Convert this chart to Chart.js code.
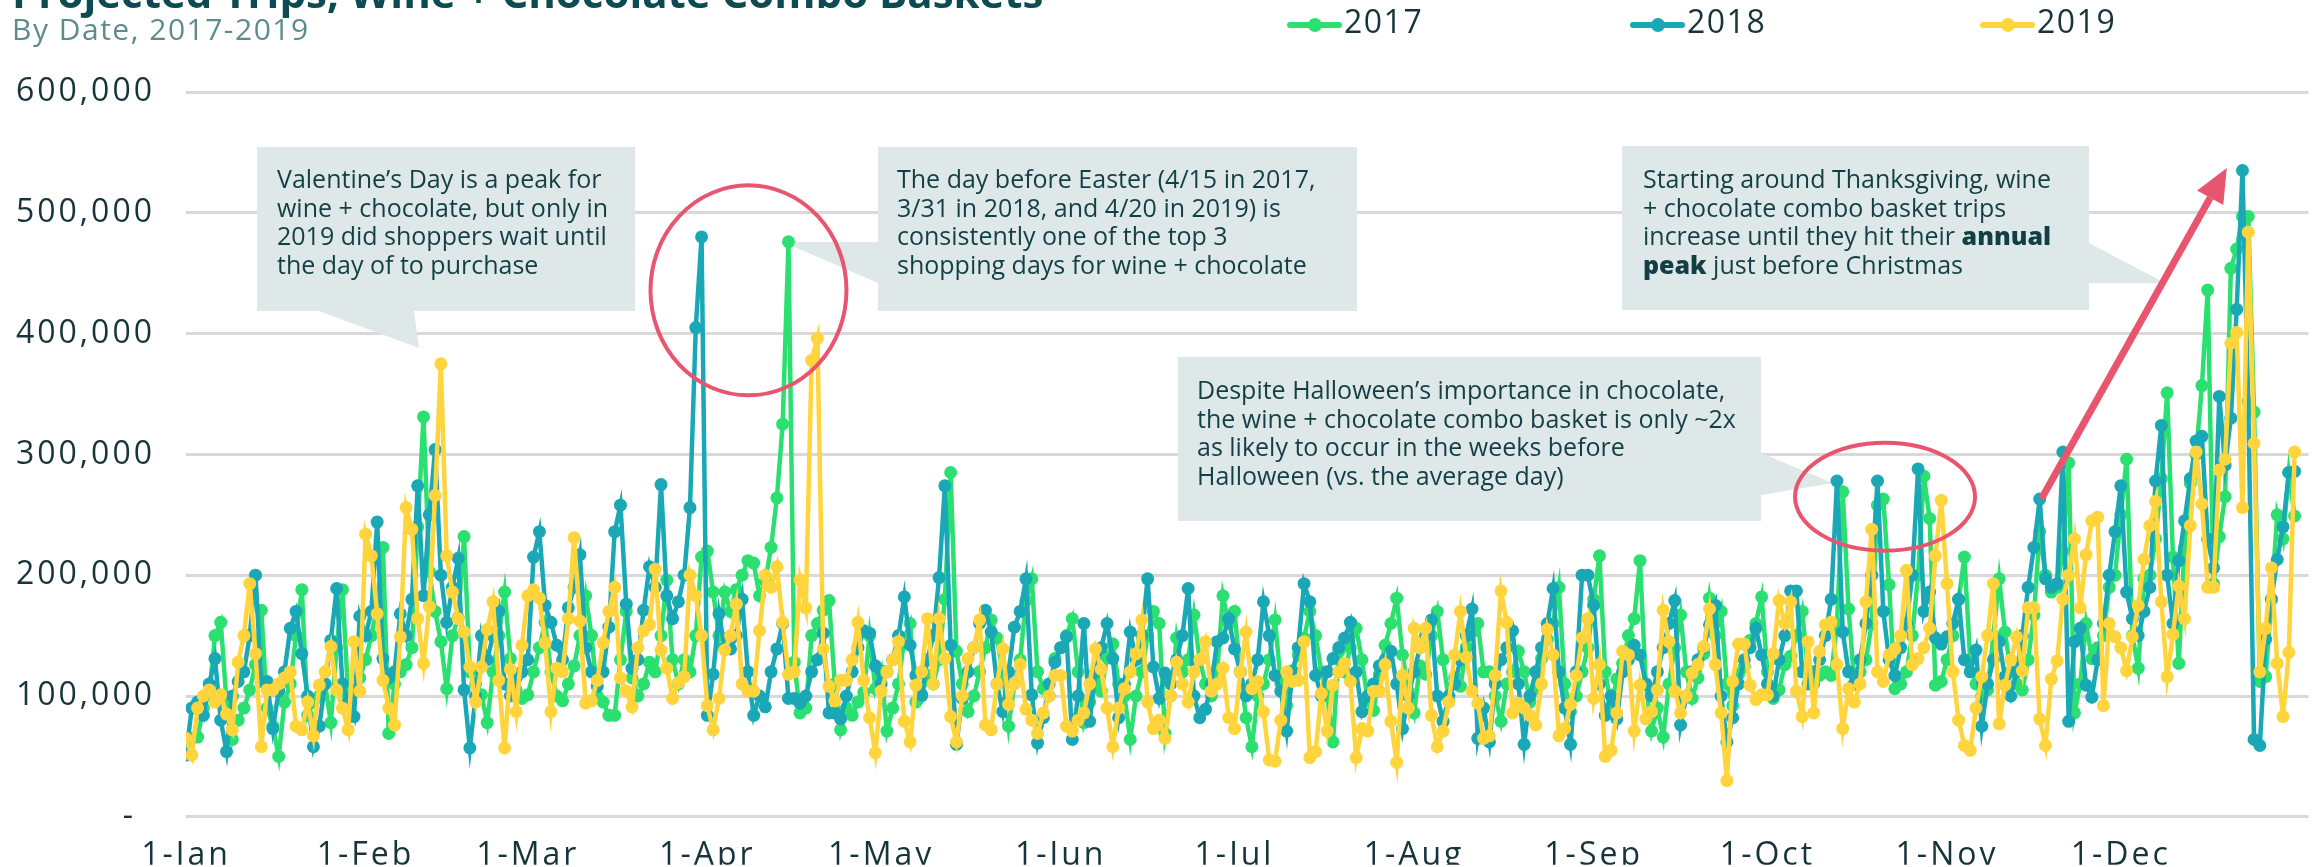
<!DOCTYPE html>
<html>
<head>
<meta charset="utf-8">
<title>Projected Trips, Wine + Chocolate Combo Baskets</title>
<script src="https://cdn.jsdelivr.net/npm/chart.js@4.4.1/dist/chart.umd.min.js"></script>
<style>
  html, body { margin: 0; padding: 0; background: #fff; }
  #stage { position: relative; width: 2315px; height: 867px; overflow: hidden; font-family: "Open Sans", sans-serif; }
  #tripsChart { position: absolute; left: 0; top: 0; }
  .title { position: absolute; left: 12px; top: -29px; font-size: 42px; line-height: 42px; font-weight: 700; color: #0d4b52; white-space: nowrap; }
  .subtitle { position: absolute; left: 12px; top: 14px; font-size: 30px; line-height: 30px; letter-spacing: 1.5px; color: #5f8b8d; white-space: nowrap; }
  .legend-item { position: absolute; top: 5px; height: 40px; }
  .legend-item .mark { position: absolute; left: 0; top: 17px; width: 55px; height: 6px; border-radius: 3px; }
  .legend-item .mark::after { content: ""; position: absolute; left: 21px; top: -4px; width: 14px; height: 14px; border-radius: 50%; background: inherit; }
  .legend-item span { position: absolute; left: 57px; top: 0; font-size: 32px; line-height: 32px; letter-spacing: 1.5px; color: #17343a; }
  .note { position: absolute; font-size: 25px; line-height: 28.5px; color: #123f45; white-space: nowrap; }
  .note b { font-weight: 800; }
</style>
</head>
<body>
<div id="stage">
  <canvas id="tripsChart" width="2315" height="867"></canvas>
  <div class="title">Projected Trips, Wine + Chocolate Combo Baskets</div>
  <div class="subtitle">By Date, 2017-2019</div>
  <div class="legend-item" style="left:1287px"><div class="mark" style="background:#2be071"></div><span>2017</span></div>
  <div class="legend-item" style="left:1630px"><div class="mark" style="background:#1aa8b6"></div><span>2018</span></div>
  <div class="legend-item" style="left:1980px"><div class="mark" style="background:#ffd43c"></div><span>2019</span></div>
  <div class="note" style="left:277px;top:164px">Valentine’s Day is a peak for<br>wine + chocolate, but only in<br>2019 did shoppers wait until<br>the day of to purchase</div>
  <div class="note" style="left:897px;top:164px">The day before Easter (4/15 in 2017,<br>3/31 in 2018, and 4/20 in 2019) is<br>consistently one of the top 3<br>shopping days for wine + chocolate</div>
  <div class="note" style="left:1197px;top:375px">Despite Halloween’s importance in chocolate,<br>the wine + chocolate combo basket is only ~2x<br>as likely to occur in the weeks before<br>Halloween (vs. the average day)</div>
  <div class="note" style="left:1643px;top:164px">Starting around Thanksgiving, wine<br>+ chocolate combo basket trips<br>increase until they hit their <b>annual</b><br><b>peak</b> just before Christmas</div>
</div>

<script>
// x axis: day of year, labelled on the first of each month
const monthNames = ['Jan', 'Feb', 'Mar', 'Apr', 'May', 'Jun', 'Jul', 'Aug', 'Sep', 'Oct', 'Nov', 'Dec'];
const monthStartDay = [0, 31, 59, 90, 120, 151, 181, 212, 243, 273, 304, 334];

// projected trips per day, in thousands (Jan 1 .. Dec 31)
const trips2017 = [
  61, 65, 66, 90, 100, 150, 161,
  95, 64, 80, 90, 105, 126, 171,
  90, 75, 50, 95, 110, 150, 188,
  84, 95, 100, 110, 78, 140, 188,
  100, 105, 115, 130, 150, 175, 223,
  69, 110, 120, 126, 140, 240, 331,
  203, 170, 145, 106, 150, 165, 232,
  120, 110, 101, 78, 120, 150, 186,
  131, 105, 98, 101, 120, 140, 161,
  120, 100, 96, 110, 125, 150, 183,
  150, 100, 95, 84, 84, 130, 170,
  115, 100, 110, 128, 120, 150, 196,
  130, 110, 130, 120, 150, 215, 220,
  186, 150, 186, 170, 188, 200, 212,
  210, 183, 195, 223, 264, 325, 476,
  128, 86, 90, 150, 160, 171, 179,
  110, 72, 90, 84, 95, 103, 150,
  106, 121, 71, 90, 110, 148, 160,
  95, 100, 117, 110, 130, 180, 285,
  137, 110, 87, 100, 120, 140, 163,
  148, 120, 75, 110, 130, 179, 197,
  120, 106, 100, 131, 140, 150, 164,
  120, 78, 95, 112, 104, 132, 143,
  110, 100, 64, 100, 120, 150, 170,
  160, 69, 100, 148, 120, 130, 167,
  130, 110, 100, 120, 183, 160, 170,
  120, 82, 58, 100, 110, 130, 163,
  110, 92, 121, 134, 148, 170, 150,
  120, 100, 62, 137, 120, 140, 156,
  130, 96, 88, 118, 142, 160, 181,
  134, 104, 86, 125, 118, 150, 170,
  130, 96, 115, 108, 140, 153, 160,
  120, 120, 100, 79, 110, 120, 137,
  120, 95, 106, 131, 147, 160, 190,
  110, 87, 100, 120, 140, 180, 216,
  120, 92, 114, 127, 150, 164, 212,
  110, 71, 90, 66, 110, 140, 167,
  120, 98, 115, 135, 181, 150, 170,
  110, 92, 118, 124, 146, 160, 182,
  120, 98, 105, 126, 133, 150, 170,
  120, 110, 117, 120, 117, 160, 269,
  172, 110, 120, 130, 160, 258, 263,
  192, 106, 110, 120, 150, 200, 282,
  247, 109, 112, 130, 150, 180, 215,
  130, 110, 100, 105, 150, 197, 153,
  120, 110, 105, 130, 167, 236, 200,
  186, 190, 220, 293, 86, 110, 160,
  131, 140, 150, 190, 200, 250, 296,
  150, 123, 197, 200, 230, 280, 351,
  215, 127, 223, 276, 300, 357, 436,
  193, 232, 265, 454, 470, 497, 497,
  335, 112, 116, 180, 250, 230, 285,
  249
];

const trips2018 = [
  51, 90, 95, 84, 110, 131, 80,
  54, 100, 112, 120, 150, 200, 112,
  112, 73, 104, 120, 156, 170, 135,
  100, 58, 75, 110, 146, 189, 110,
  95, 83, 166, 150, 170, 244, 131,
  115, 120, 168, 150, 180, 274, 183,
  250, 304, 200, 161, 190, 214, 105,
  57, 100, 150, 130, 150, 170, 110,
  100, 115, 120, 130, 215, 236, 175,
  161, 142, 130, 173, 190, 217, 140,
  120, 108, 120, 157, 236, 258, 176,
  123, 130, 171, 207, 190, 275, 183,
  164, 178, 200, 256, 405, 480, 84,
  118, 168, 140, 139, 150, 180, 120,
  84, 100, 91, 120, 139, 160, 98,
  98, 94, 100, 120, 130, 152, 86,
  86, 81, 100, 120, 140, 154, 152,
  125, 110, 120, 130, 150, 182, 142,
  117, 101, 130, 150, 198, 274, 142,
  60, 98, 120, 140, 160, 171, 153,
  110, 87, 120, 157, 170, 197, 101,
  61, 82, 110, 128, 140, 149, 64,
  100, 160, 79, 120, 140, 160, 131,
  82, 110, 153, 130, 150, 197, 124,
  98, 119, 110, 130, 150, 189, 100,
  82, 89, 110, 145, 148, 164, 139,
  120, 100, 110, 130, 178, 150, 117,
  104, 71, 120, 140, 193, 178, 117,
  100, 120, 131, 140, 148, 161, 120,
  87, 100, 110, 125, 130, 137, 110,
  73, 100, 120, 140, 150, 163, 100,
  79, 100, 110, 130, 150, 172, 65,
  90, 62, 110, 130, 140, 154, 110,
  60, 100, 120, 140, 160, 189, 120,
  90, 60, 120, 200, 200, 175, 110,
  84, 100, 81, 120, 130, 142, 134,
  110, 100, 120, 140, 160, 179, 76,
  100, 120, 130, 140, 159, 175, 100,
  62, 82, 110, 130, 140, 156, 134,
  110, 100, 130, 150, 187, 187, 120,
  110, 120, 130, 150, 180, 278, 153,
  120, 110, 130, 160, 200, 278, 170,
  130, 117, 140, 160, 200, 288, 170,
  186, 148, 143, 149, 160, 180, 130,
  120, 138, 75, 110, 130, 145, 116,
  100, 120, 150, 190, 223, 263, 197,
  190, 193, 302, 79, 145, 156, 109,
  99, 130, 160, 200, 236, 274, 186,
  164, 150, 170, 190, 278, 324, 200,
  160, 212, 245, 280, 311, 315, 230,
  206, 348, 291, 330, 420, 535, 344,
  64, 59, 147, 180, 213, 240, 285,
  286
];

const trips2019 = [
  65, 51, 90, 100, 105, 95, 101,
  85, 72, 128, 150, 193, 135, 58,
  105, 105, 110, 115, 120, 75, 72,
  95, 67, 109, 120, 141, 105, 90,
  72, 145, 104, 234, 216, 168, 113,
  90, 76, 149, 256, 238, 164, 127,
  174, 266, 375, 216, 186, 164, 153,
  124, 95, 124, 155, 178, 113, 57,
  122, 87, 142, 183, 188, 181, 144,
  87, 123, 120, 164, 231, 162, 94,
  96, 113, 144, 170, 190, 115, 104,
  91, 140, 154, 159, 205, 138, 123,
  98, 111, 116, 200, 183, 150, 92,
  72, 98, 138, 150, 176, 110, 104,
  104, 154, 200, 190, 207, 161, 118,
  120, 196, 173, 378, 396, 139, 108,
  96, 113, 113, 130, 161, 113, 82,
  53, 104, 120, 130, 145, 79, 62,
  109, 120, 164, 110, 164, 131, 83,
  62, 100, 131, 140, 163, 76, 72,
  110, 139, 93, 110, 126, 89, 80,
  69, 86, 100, 117, 117, 75, 71,
  80, 86, 110, 139, 122, 90, 58,
  90, 106, 120, 135, 163, 95, 73,
  80, 65, 100, 128, 110, 95, 120,
  130, 145, 104, 110, 123, 82, 73,
  120, 153, 106, 112, 87, 47, 46,
  80, 120, 112, 113, 145, 49, 54,
  102, 71, 109, 120, 127, 112, 49,
  73, 71, 104, 104, 126, 79, 45,
  117, 90, 156, 140, 156, 84, 58,
  71, 95, 134, 170, 132, 104, 94,
  65, 67, 117, 187, 161, 86, 94,
  90, 84, 76, 110, 155, 134, 67,
  73, 93, 117, 148, 164, 98, 126,
  50, 55, 86, 137, 134, 71, 109,
  81, 87, 105, 171, 145, 104, 86,
  100, 119, 126, 141, 172, 126, 86,
  30, 112, 143, 143, 109, 97, 101,
  101, 135, 179, 160, 178, 104, 83,
  145, 86, 137, 159, 161, 126, 73,
  106, 95, 110, 178, 238, 120, 112,
  134, 139, 150, 204, 126, 131, 140,
  156, 216, 262, 193, 120, 80, 59,
  55, 90, 116, 150, 193, 77, 109,
  130, 149, 121, 173, 173, 81, 59,
  114, 129, 180, 200, 230, 173, 217,
  245, 248, 92, 160, 149, 140, 121,
  149, 175, 213, 241, 261, 178, 116,
  151, 191, 164, 241, 302, 259, 190,
  190, 287, 296, 392, 401, 256, 484,
  309, 120, 156, 206, 127, 83, 136,
  302
];

const GREEN = '#2be071';
const TEAL = '#1aa8b6';
const YELLOW = '#ffd43c';
const RED = '#e8556f';
const NOTE_BG = '#dfe8e8';

const toPoints = arr => arr.map((v, i) => ({ x: i, y: v * 1000 }));

function series(label, values, color, order) {
  return {
    label: label,
    data: toPoints(values),
    borderColor: color,
    backgroundColor: color,
    pointBackgroundColor: color,
    pointBorderColor: color,
    pointBorderWidth: 0,
    pointRadius: 6.5,
    borderWidth: 4.5,
    tension: 0,
    order: order
  };
}

// grey callout boxes with their pointers (canvas pixels)
const noteBoxes = [
  { x: 257, y: 147, w: 378, h: 164, tail: [[319, 311], [414, 311], [419, 348]] },
  { x: 878, y: 147, w: 479, h: 164, tail: [[878, 242], [783, 242], [878, 283]] },
  { x: 1178, y: 357, w: 583, h: 164, tail: [[1761, 453], [1833, 483], [1761, 495]] },
  { x: 1622, y: 146, w: 467, h: 164, tail: [[2089, 243], [2165, 283], [2089, 283]] }
];

// red highlight rings and the trend arrow, placed in data units
const rings = [
  { day: 97.1, value: 435800, rx: 98, ry: 105 },
  { day: 293.3, value: 265000, rx: 90, ry: 54 }
];
const trendArrow = { from: [320.3, 263300], to: [352.3, 537000] };

const calloutPlugin = {
  id: 'callouts',
  beforeDraw(chart) {
    // wider tracking for the axis labels
    chart.ctx.letterSpacing = '3px';
  },
  afterDraw(chart) {
    chart.ctx.letterSpacing = '0px';
  },
  beforeDatasetsDraw(chart) {
    const ctx = chart.ctx;
    ctx.save();
    ctx.fillStyle = NOTE_BG;
    noteBoxes.forEach(b => {
      ctx.fillRect(b.x, b.y, b.w, b.h);
      ctx.beginPath();
      ctx.moveTo(b.tail[0][0], b.tail[0][1]);
      ctx.lineTo(b.tail[1][0], b.tail[1][1]);
      ctx.lineTo(b.tail[2][0], b.tail[2][1]);
      ctx.closePath();
      ctx.fill();
    });
    ctx.restore();
  },
  afterDatasetsDraw(chart) {
    const ctx = chart.ctx;
    const xs = chart.scales.x, ys = chart.scales.y;
    ctx.save();
    ctx.strokeStyle = RED;
    ctx.fillStyle = RED;
    ctx.lineWidth = 4;
    rings.forEach(r => {
      ctx.beginPath();
      ctx.ellipse(xs.getPixelForValue(r.day), ys.getPixelForValue(r.value), r.rx, r.ry, 0, 0, Math.PI * 2);
      ctx.stroke();
    });

    const x1 = xs.getPixelForValue(trendArrow.from[0]), y1 = ys.getPixelForValue(trendArrow.from[1]);
    const x2 = xs.getPixelForValue(trendArrow.to[0]), y2 = ys.getPixelForValue(trendArrow.to[1]);
    const ang = Math.atan2(y2 - y1, x2 - x1);
    const headLen = 34, headHalf = 15;
    const bx = x2 - headLen * Math.cos(ang), by = y2 - headLen * Math.sin(ang);
    ctx.lineWidth = 7;
    ctx.beginPath();
    ctx.moveTo(x1, y1);
    ctx.lineTo(bx, by);
    ctx.stroke();
    ctx.beginPath();
    ctx.moveTo(x2, y2);
    ctx.lineTo(bx + headHalf * Math.sin(ang), by - headHalf * Math.cos(ang));
    ctx.lineTo(bx - headHalf * Math.sin(ang), by + headHalf * Math.cos(ang));
    ctx.closePath();
    ctx.fill();
    ctx.restore();
  }
};

const tickFont = { family: 'Open Sans', size: 32 };

new Chart(document.getElementById('tripsChart').getContext('2d'), {
  type: 'line',
  data: {
    datasets: [
      series('2017', trips2017, GREEN, 2),
      series('2018', trips2018, TEAL, 1),
      series('2019', trips2019, YELLOW, 0)
    ]
  },
  options: {
    responsive: false,
    animation: false,
    layout: { padding: { top: 92, right: 0, bottom: 0, left: 0 } },
    plugins: {
      legend: { display: false },
      tooltip: { enabled: false }
    },
    scales: {
      x: {
        type: 'linear',
        min: 0,
        max: 366.4,
        grid: { display: false },
        border: { display: false },
        afterBuildTicks: axis => { axis.ticks = monthStartDay.map(d => ({ value: d })); },
        afterFit: axis => { axis.height = 48; },
        ticks: {
          autoSkip: false,
          maxRotation: 0,
          padding: 12,
          color: '#17343a',
          font: tickFont,
          callback: v => '1-' + monthNames[monthStartDay.indexOf(v)]
        }
      },
      y: {
        min: 0,
        max: 600000,
        afterFit: axis => { axis.width = 186; },
        border: { display: false },
        grid: { color: '#d9d9d9', lineWidth: 3, drawTicks: false },
        ticks: {
          stepSize: 100000,
          padding: 31,
          color: '#17343a',
          font: tickFont,
          callback: v => v === 0 ? '-\u2002' : v.toLocaleString('en-US')
        }
      }
    }
  },
  plugins: [calloutPlugin]
});
</script>
</body>
</html>
